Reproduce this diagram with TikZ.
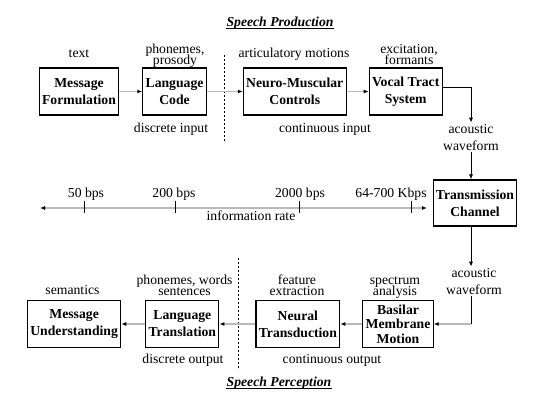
\documentclass[tikz,border=0pt]{standalone}
\usepackage{fontspec}
\setmainfont{Liberation Serif}
\usetikzlibrary{positioning}
\usetikzlibrary{arrows.meta}
\tikzset{node distance=23pt,
    block/.style={
        draw,
        line width=1.1pt,
        align=center,
        font=\bfseries,
        minimum height=47pt,
        inner xsep=2.8pt},
    lbl/.style={
        align=center,
        inner sep=0pt,
        anchor=base},
    heading/.style={
        font=\bfseries\itshape,
        inner sep=0pt,
        anchor=base},
    flow/.style={
        draw=gray!55,
        line width=1.6pt,
        -{Latex[length=5pt,width=4pt,color=black]}},
    wire/.style={
        draw,
        line width=0.9pt,
        -{Latex[length=5pt,width=4pt]}},
    divider/.style={
        line width=1pt,
        dash pattern=on 2pt off 2pt}}

\begin{document}
\fontsize{13.7}{16}\selectfont
\begin{tikzpicture}[x=1pt,y=-1pt]
    \useasboundingbox (0,0) rectangle (549,400);

    % speech production
    \node[heading] (prodtitle) at (280,26) {Speech Production};
    \draw[line width=0.8pt] ([yshift=-2.5pt]prodtitle.base west) -- ([yshift=-2.5pt]prodtitle.base east);

    \node[block] (msgform) at (79,91.5) {Message\\[1pt]Formulation};
    \node[block,right=23pt of msgform] (langcode) {Language\\[1pt]Code};
    \node[block,right=36pt of langcode] (neuro) {Neuro-Muscular\\[1pt]Controls};
    \node[block,right=22pt of neuro] (vocal) {Vocal Tract\\[1pt]System};

    % two-line labels: base is the last line
    \node[lbl] (textlbl) at (79,57) {text};
    \node[lbl] (phonlbl) at (175,64) {phonemes,\\[-5pt]prosody};
    \node[lbl] (artlbl) at (294,57) {articulatory motions};
    \node[lbl] (exclbl) at (409,64) {excitation,\\[-5pt]formants};
    \node[lbl] (discin) at (171,132) {discrete input};
    \node[lbl] (contin) at (325,132) {continuous input};
    \node[lbl] (acotop) at (471,150) {acoustic\\[1pt]waveform};

    \draw[divider] (224,55) -- (224,142);

    \draw[flow] (msgform) -- (langcode);
    \draw[flow] (langcode) -- (neuro);
    \draw[flow] (neuro) -- (vocal);
    \draw[wire] ([yshift=4.5pt]vocal.east) -| ([yshift=1pt]acotop.north);

    % transmission and rate axis
    \node[block,minimum height=46pt] (trans) at (475,203) {Transmission\\[1pt]Channel};
    \draw[wire,shorten <=2pt] (acotop.south) -- (acotop.south |- trans.north);

    \coordinate (rateL) at (40,208);
    \coordinate (rateR) at (427,208);
    \draw[flow,{Latex[length=5pt,width=4pt,color=black]}-{Latex[length=5pt,width=4pt,color=black]}] (rateL) -- (rateR);
    \foreach \x in {84,175,299,411}
        \draw[line width=1pt] (\x,201) -- (\x,213);
    \node[lbl] (r50) at (86,197) {50 bps};
    \node[lbl] (r200) at (174,197) {200 bps};
    \node[lbl] (r2000) at (300,197) {2000 bps};
    \node[lbl] (rkbps) at (391,197) {64-700 Kbps};
    \node[lbl] (inforate) at (251,220) {information rate};

    % speech perception
    \node[block] (basilar) at (398,324) {Basilar\\[-1.5pt]Membrane\\[-1.5pt]Motion};
    \node[block,left=22pt of basilar] (neural) {Neural\\[1pt]Transduction};
    \node[block,left=36pt of neural] (langtrans) {Language\\[1pt]Translation};
    \node[block,left=24pt of langtrans] (msgund) {Message\\[1pt]Understanding};

    \node[lbl] (acobot) at (474,294) {acoustic\\[1pt]waveform};
    \node[lbl] (semlbl) at (72.5,294) {semantics};
    \node[lbl] (wordlbl) at (184.5,295) {phonemes, words\\[-5pt]sentences};
    \node[lbl] (featlbl) at (297,295) {feature\\[-5pt]extraction};
    \node[lbl] (speclbl) at (395,295) {spectrum\\[-5pt]analysis};
    \node[lbl] (discout) at (183,363) {discrete output};
    \node[lbl] (contout) at (332,363) {continuous output};

    \draw[divider] (238,258) -- (238,370);

    \draw[wire] (acotop.south |- trans.south) -- ([yshift=1pt]acotop.south |- acobot.north);
    \draw[line width=0.9pt,shorten <=2pt] (acotop.south |- acobot.south) -- (acotop.south |- basilar.east);
    \draw[flow] (acotop.south |- basilar.east) -- (basilar.east);
    \draw[flow] (basilar) -- (neural);
    \draw[flow] (neural) -- (langtrans);
    \draw[flow] (langtrans) -- (msgund);

    \node[heading] (perctitle) at (279,386) {Speech Perception};
    \draw[line width=0.8pt] ([yshift=-2.5pt]perctitle.base west) -- ([yshift=-2.5pt]perctitle.base east);
\end{tikzpicture}
\end{document}
